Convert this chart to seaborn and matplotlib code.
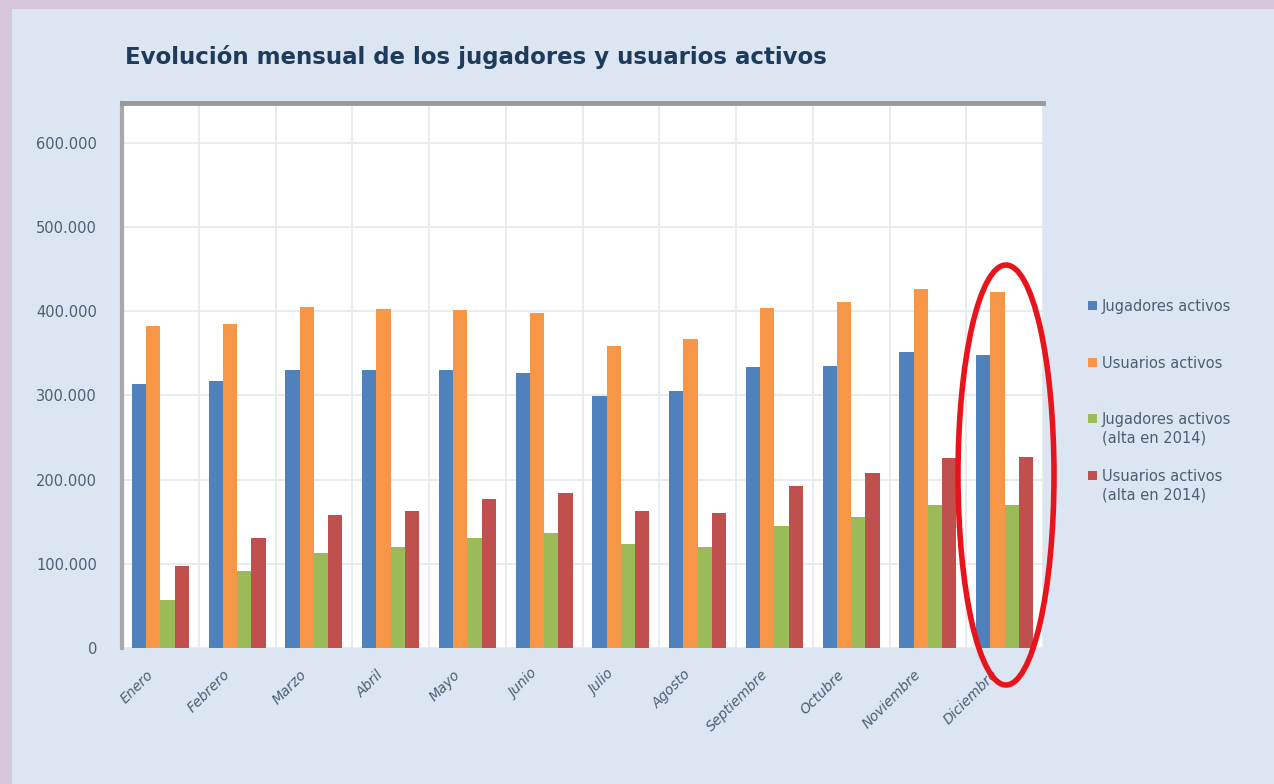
import numpy as np
import pandas as pd
import matplotlib
matplotlib.use("Agg")
import matplotlib.pyplot as plt
import matplotlib.transforms as mtransforms
import seaborn as sns
from matplotlib.patches import Rectangle, Ellipse

# Data
meses = ["Enero", "Febrero", "Marzo", "Abril", "Mayo", "Junio", "Julio",
         "Agosto", "Septiembre", "Octubre", "Noviembre", "Diciembre"]
jugadores = [314000, 317000, 330000, 330000, 330000, 327000, 299000,
             305000, 334000, 335000, 351000, 348000]
usuarios = [382000, 385000, 405000, 403000, 401000, 398000, 359000,
            367000, 404000, 411000, 426000, 423000]
jugadores_2014 = [57000, 91000, 113000, 120000, 131000, 137000, 124000,
                  120000, 145000, 155000, 170000, 170000]
usuarios_2014 = [97000, 130000, 158000, 163000, 177000, 184000, 163000,
                 160000, 192000, 208000, 226000, 227000]
series = ["Jugadores activos", "Usuarios activos",
          "Jugadores activos\n(alta en 2014)", "Usuarios activos\n(alta en 2014)"]
colores = ["#4F81BD", "#F79646", "#9BBB59", "#C0504D"]
yticks = [0, 100000, 200000, 300000, 400000, 500000, 600000]

df = pd.DataFrame({
    "mes": meses * 4,
    "serie": np.repeat(series, len(meses)),
    "valor": jugadores + usuarios + jugadores_2014 + usuarios_2014,
})

sns.set_style("white")
plt.rcParams["font.family"] = ["DejaVu Sans"]

fig = plt.figure(figsize=(12.74, 7.84), dpi=100)
fig.patch.set_facecolor("#D6C7DD")
# inner light panel (behind the axes)
panel = Rectangle((12 / 1274, 0), 1 - 12 / 1274, 1 - 9 / 784,
                  transform=fig.transFigure, facecolor="#DCE6F2",
                  edgecolor="none", zorder=-10)
fig.add_artist(panel)

ax = fig.add_axes([122 / 1274, 1 - 648 / 784, 921 / 1274, 545 / 784])
ax.set_facecolor("white")

sns.barplot(data=df, x="mes", y="valor", hue="serie", palette=colores,
            width=0.74, ax=ax, legend=False, saturation=1, linewidth=0)

ax.set_ylim(0, 647000)
ax.set_xlim(-0.5, len(meses) - 0.5)
ax.set_yticks(yticks)
ax.set_yticklabels([f"{v:,}".replace(",", ".") for v in yticks],
                   color="#4A5F73", fontsize=10.5)
ax.set_xticks(range(len(meses)))
ax.set_xticklabels(meses, rotation=45, ha="right", rotation_mode="anchor",
                   color="#4A5F73", fontsize=10, style="italic")
ax.set_xlabel("")
ax.set_ylabel("")
ax.tick_params(axis="x", length=0, pad=14)
ax.tick_params(axis="y", length=0, pad=18)
# nudge month labels a little to the left, like the original
shift = mtransforms.ScaledTranslation(-0.14, 0, fig.dpi_scale_trans)
for lbl in ax.get_xticklabels():
    lbl.set_transform(lbl.get_transform() + shift)

# grid: horizontal at ticks, vertical between months
ax.set_xticks(np.arange(-0.5, len(meses), 1), minor=True)
ax.tick_params(axis="x", which="minor", length=0)
ax.grid(axis="y", color="#E6E9EE", linewidth=1.3)
ax.grid(axis="x", which="minor", color="#E6E9EE", linewidth=1.3)
ax.set_axisbelow(True)

for s in ["right", "bottom"]:
    ax.spines[s].set_visible(False)
ax.spines["left"].set_color("#A8A8A8")
ax.spines["left"].set_linewidth(3)
ax.spines["top"].set_color("#9A9A9A")
ax.spines["top"].set_linewidth(3.5)

# red highlight ellipse around Diciembre
ell = Ellipse((1006 / 1274, 1 - 475 / 784), 96 / 1274, 420 / 784, angle=0,
              transform=fig.transFigure, fill=False, edgecolor="#E8141B",
              linewidth=4, zorder=10)
fig.add_artist(ell)

fig.text(125 / 1274, 1 - 57 / 784,
         "Evolución mensual de los jugadores y usuarios activos",
         fontsize=16.5, fontweight="bold", color="#1F3B5C", va="center")

# legend on the right
leg_y = [305, 362, 418, 475]
for y, lab, c in zip(leg_y, series, colores):
    fig.add_artist(Rectangle((1088 / 1274, 1 - (y + 5) / 784), 9 / 1274, 9 / 784,
                             transform=fig.transFigure, facecolor=c,
                             edgecolor="none"))
    fig.text(1102 / 1274, 1 - (y - 6) / 784, lab, fontsize=10.5, color="#4A5F73",
             va="top", linespacing=1.3)

fig.savefig("out.png", dpi=100, facecolor=fig.get_facecolor())
